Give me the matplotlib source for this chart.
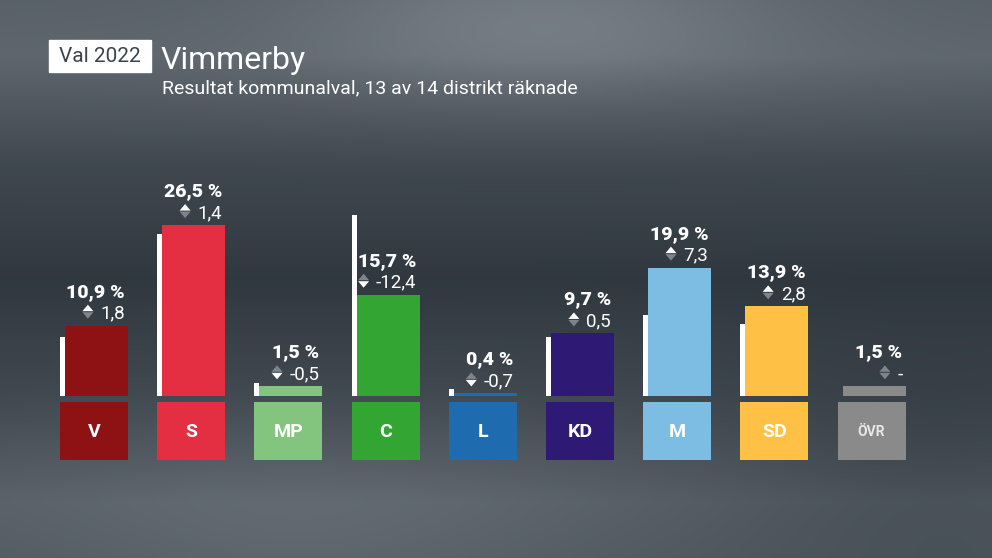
import matplotlib.pyplot as plt
import numpy as np
from matplotlib.patches import Rectangle, Polygon

plt.rcParams['font.family'] = ['Roboto', 'DejaVu Sans']

# data
parties = ['V', 'S', 'MP', 'C', 'L', 'KD', 'M', 'SD', 'ÖVR']
share = [10.9, 26.5, 1.5, 15.7, 0.4, 9.7, 19.9, 13.9, 1.5]
change = [1.8, 1.4, -0.5, -12.4, -0.7, 0.5, 7.3, 2.8, None]
colors = ['#8e1214', '#e32f41', '#83c57f', '#33a532', '#1f6baf',
          '#2e1a75', '#7ebde3', '#fec146', '#8a8a8a']

W, H = 992, 558
fig = plt.figure(figsize=(W / 100, H / 100), dpi=100)

# background gradient
bg = fig.add_axes([0, 0, 1, 1])
yy, xx = np.mgrid[0:1:280j, 0:1:500j]
g = np.interp(yy, [0, 0.1, 0.3, 0.5, 0.7, 0.9, 1.0],
              [0.38, 0.40, 0.28, 0.22, 0.28, 0.37, 0.35])
g = g + 0.10 * np.exp(-((xx - 0.55) ** 2 / 0.06 + (yy - 0.03) ** 2 / 0.02))
g = g + 0.05 * np.exp(-((xx - 0.3) ** 2 / 0.08 + (yy - 0.95) ** 2 / 0.03))
g = g - 0.05 * np.exp(-((xx - 0.95) ** 2 / 0.05 + (yy - 0.85) ** 2 / 0.05))
img = np.dstack([g - 0.03, g, g + 0.03]).clip(0, 1)
bg.imshow(img, aspect='auto', extent=[0, 1, 0, 1], interpolation='bicubic')
bg.axis('off')

# chart axes, layout in pixels
step = 97.2      # px between parties
ppu = 6.45       # px per percent
base = 396       # baseline pixel row
first = 94       # centre of first party
ax = fig.add_axes([0, 0, 1, 1])
ax.patch.set_alpha(0)
ax.set_xlim(-first / step, (W - first) / step)
ax.set_ylim(-(H - base) / ppu, base / ppu)
ax.axis('off')

x = np.arange(len(parties))
half = 0.35
gap = 5 / step

prev = [s - c if c is not None else 0 for s, c in zip(share, change)]
ax.bar(x - half, prev, width=gap, align='edge', color='white')
ax.bar(x - half + gap, share, width=2 * half - gap, align='edge', color=colors)

# party boxes
ax.bar(x, -58 / ppu, bottom=-6 / ppu, width=2 * half, color=colors)
for i, p in enumerate(parties):
    fs = 10 if p == 'ÖVR' else 14
    col = '#e8e8e8' if p == 'ÖVR' else 'white'
    ax.text(i, -36 / ppu, p, ha='center', va='center', color=col,
            fontsize=fs, fontweight='bold')

# value and change labels
chg_texts = []
for i, (s, c) in enumerate(zip(share, change)):
    ax.annotate(f"{s:.1f} %".replace('.', ','), (i + half, s),
                xytext=(-3, 29), textcoords='offset pixels',
                ha='right', va='baseline', color='white',
                fontsize=14, fontweight='heavy')
    lab = '-' if c is None else f"{c:.1f}".replace('.', ',')
    t = ax.annotate(lab, (i + half, s), xytext=(-3, 7),
                    textcoords='offset pixels', ha='right', va='baseline',
                    color='white', fontsize=13.5)
    chg_texts.append(t)

# up/down icons
fig.canvas.draw()
r = fig.canvas.get_renderer()
grey = '#7d848b'
for i, (t, c) in enumerate(zip(chg_texts, change)):
    bb = t.get_window_extent(r)
    bx, by = ax.transData.transform((i + half, share[i]))
    b = by + 7
    cx = bb.x0 - 12.5
    up = [(cx - 5.5, b + 7.5), (cx + 5.5, b + 7.5), (cx, b + 14)]
    dn = [(cx - 5.5, b + 6.5), (cx + 5.5, b + 6.5), (cx, b)]
    cu = 'white' if (c is not None and c > 0) else grey
    cd = 'white' if (c is not None and c < 0) else grey
    for pts, col in ((up, cu), (dn, cd)):
        pts = [(px / W, py / H) for px, py in pts]
        fig.add_artist(Polygon(pts, closed=True, color=col, lw=0,
                               transform=fig.transFigure))

# header
fig.add_artist(Rectangle((49 / W, 1 - 72 / H), 102 / W, 32 / H,
                         color='white', transform=fig.transFigure))
fig.text(100 / W, 1 - 57 / H, 'Val 2022', ha='center', va='center',
         color='#3d434a', fontsize=15)
fig.text(161 / W, 1 - 69 / H, 'Vimmerby', ha='left', va='baseline',
         color='white', fontsize=23)
fig.text(162 / W, 1 - 93 / H, 'Resultat kommunalval, 13 av 14 distrikt räknade',
         ha='left', va='baseline', color='white', fontsize=14)

fig.savefig('out.png', dpi=100)
